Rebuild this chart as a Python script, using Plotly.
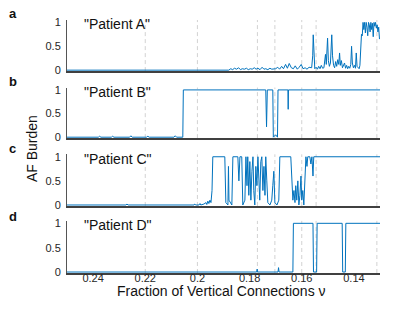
import plotly.graph_objects as go
from plotly.subplots import make_subplots

# ---------------- data ----------------
nu_a = [0.2500, 0.1880, 0.1872, 0.1865, 0.1858, 0.1850, 0.1842, 0.1835, 0.1828, 0.1820,
        0.1812, 0.1805, 0.1797, 0.1790, 0.1782, 0.1775, 0.1768, 0.1760, 0.1752, 0.1745,
        0.1738, 0.1730, 0.1722, 0.1715, 0.1700, 0.1692, 0.1685, 0.1677, 0.1670, 0.1662,
        0.1655, 0.1648, 0.1640, 0.1632, 0.1625, 0.1617, 0.1610, 0.1602, 0.1595, 0.1587,
        0.1580, 0.1572, 0.1562, 0.1558, 0.1556, 0.1553, 0.1550, 0.1545, 0.1540, 0.1535,
        0.1530, 0.1525, 0.1520, 0.1515, 0.1512, 0.1509, 0.1506, 0.1503, 0.1501, 0.1498,
        0.1494, 0.1490, 0.1487, 0.1485, 0.1482, 0.1478, 0.1474, 0.1470, 0.1466, 0.1462,
        0.1458, 0.1455, 0.1452, 0.1448, 0.1444, 0.1440, 0.1436, 0.1432, 0.1428, 0.1424,
        0.1420, 0.1416, 0.1412, 0.1409, 0.1406, 0.1402, 0.1398, 0.1394, 0.1391, 0.1388,
        0.1384, 0.1380, 0.1377, 0.1374, 0.1371, 0.1368, 0.1365, 0.1362, 0.1359, 0.1356,
        0.1353, 0.1350, 0.1347, 0.1344, 0.1341, 0.1338, 0.1335, 0.1332, 0.1329, 0.1326,
        0.1323, 0.1320, 0.1317, 0.1314, 0.1311, 0.1308, 0.1305, 0.1302]
af_a = [0, 0, 0.03, 0.01, 0.04, 0.02, 0.05, 0.01, 0.03, 0.02,
        0.04, 0.01, 0.03, 0.02, 0.05, 0.02, 0.04, 0.01, 0.06, 0.02,
        0.03, 0.01, 0.04, 0.02, 0.03, 0.06, 0.02, 0.08, 0.03, 0.12,
        0.04, 0.14, 0.05, 0.03, 0.09, 0.02, 0.06, 0.12, 0.03, 0.05,
        0.02, 0.06, 0.05, 0.30, 0.74, 0.20, 0.03, 0.06, 0.02, 0.08,
        0.03, 0.10, 0.04, 0.05, 0.15, 0.33, 0.12, 0.45, 0.67, 0.20,
        0.08, 0.15, 0.40, 0.74, 0.30, 0.10, 0.05, 0.18, 0.08, 0.22,
        0.12, 0.36, 0.10, 0.20, 0.05, 0.12, 0.15, 0.04, 0.10, 0.03,
        0.08, 0.04, 0.12, 0.50, 0.15, 0.05, 0.10, 0.04, 0.36, 0.08,
        0.05, 0.03, 0.10, 0.70, 0.75, 0.72, 1.00, 0.85, 1.00, 0.78,
        1.00, 0.90, 0.72, 1.00, 0.95, 0.80, 1.00, 0.85, 0.98, 0.70,
        1.00, 0.92, 1.00, 0.88, 0.95, 0.80, 0.90, 0.65]

nu_b = [0.2500, 0.2380, 0.2375, 0.2370, 0.2330, 0.2325, 0.2320, 0.2260, 0.2255, 0.2250,
        0.2195, 0.2190, 0.2185, 0.2090, 0.2085, 0.2080, 0.2056, 0.2054, 0.1738, 0.1735,
        0.1732, 0.1711, 0.1709, 0.1700, 0.1693, 0.1691, 0.1653, 0.1652, 0.1651, 0.1300]
af_b = [0, 0, 0.02, 0, 0, 0.02, 0, 0, 0.03, 0,
        0, 0.02, 0, 0, 0.03, 0, 0, 1, 1, 0.22,
        1, 1, 0, 0.05, 0, 1, 1, 0.59, 1, 1]

nu_c = [0.2500, 0.2274, 0.2270, 0.2266, 0.2013, 0.2010, 0.2006, 0.1994, 0.1990, 0.1987,
        0.1975, 0.1967, 0.1964, 0.1960, 0.1956, 0.1952, 0.1948, 0.1944, 0.1941, 0.1895,
        0.1891, 0.1883, 0.1881, 0.1879, 0.1868, 0.1864, 0.1845, 0.1841, 0.1837, 0.1830,
        0.1826, 0.1818, 0.1814, 0.1810, 0.1807, 0.1803, 0.1799, 0.1795, 0.1791, 0.1787,
        0.1784, 0.1780, 0.1776, 0.1772, 0.1768, 0.1764, 0.1761, 0.1757, 0.1753, 0.1749,
        0.1745, 0.1741, 0.1738, 0.1734, 0.1730, 0.1722, 0.1715, 0.1711, 0.1707, 0.1703,
        0.1695, 0.1688, 0.1684, 0.1642, 0.1638, 0.1634, 0.1630, 0.1626, 0.1623, 0.1619,
        0.1615, 0.1611, 0.1607, 0.1603, 0.1600, 0.1596, 0.1592, 0.1588, 0.1584, 0.1580,
        0.1577, 0.1569, 0.1565, 0.1561, 0.1557, 0.1554, 0.1300]
af_c = [0, 0, 0.02, 0, 0, 0.02, 0, 0, 0.03, 0,
        0.02, 0.05, 0.01, 0.08, 0.03, 0.10, 0.05, 0.30, 1, 1,
        0.05, 0, 0.80, 0.10, 0, 1, 1, 0.50, 1, 1,
        0, 0.10, 1, 0.40, 1, 0.20, 0.90, 0.10, 0.70, 1,
        0.30, 0, 0.80, 0.40, 1, 0.60, 0.10, 0.90, 1, 0.30,
        0.80, 0.20, 1, 0.50, 0.05, 0, 0.10, 0.40, 0.70, 0.05,
        0, 0.10, 1, 1, 0.60, 0.10, 0.30, 0.05, 0.40, 0.10,
        0.50, 0, 0.20, 0.60, 0.10, 0.30, 0, 0.70, 1, 0.80,
        1, 1, 0.85, 1, 0.60, 1, 1]

nu_d = [0.2500, 0.1773, 0.1771, 0.1769, 0.1691, 0.1689, 0.1687, 0.1634, 0.1632, 0.1557,
        0.1555, 0.1543, 0.1541, 0.1445, 0.1443, 0.1433, 0.1431, 0.1300]
af_d = [0, 0, 0.06, 0, 0, 0.09, 0, 0, 1, 1,
        0, 0, 1, 1, 0, 0, 1, 1]

series_nu = [nu_a, nu_b, nu_c, nu_d]
series_af = [af_a, af_b, af_c, af_d]
patient_names = ['"Patient A"', '"Patient B"', '"Patient C"', '"Patient D"']
panel_letters = ["a", "b", "c", "d"]
marker_nu = [0.22, 0.20, 0.177, 0.1703, 0.16, 0.1545, 0.1312]
x_tick_vals = [0.24, 0.22, 0.20, 0.18, 0.16, 0.14]
x_tick_text = ["0.24", "0.22", "0.2", "0.18", "0.16", "0.14"]
y_tick_vals = [0, 0.5, 1]
y_tick_text = ["0", "0.5", "1"]

# ---------------- figure ----------------
FONT = "Liberation Sans, Arial, sans-serif"
BLUE = "#0072BD"
TXT = "#262626"

fig = make_subplots(rows=4, cols=1, shared_xaxes=True)

domains = [[0.798, 1.0], [0.533, 0.733], [0.265, 0.469], [0.0, 0.206]]

for i in range(4):
    r = i + 1
    fig.add_trace(go.Scatter(x=series_nu[i], y=series_af[i], mode="lines",
                             line=dict(color=BLUE, width=1), hoverinfo="skip",
                             showlegend=False), row=r, col=1)
    fig.update_yaxes(row=r, col=1, domain=domains[i], range=[-0.02, 1.05],
                     tickvals=y_tick_vals, ticktext=y_tick_text,
                     showline=True, linecolor="#555555", linewidth=1,
                     showgrid=False, zeroline=False, ticks="outside", ticklen=3,
                     tickcolor="rgba(0,0,0,0)",
                     tickfont=dict(family=FONT, size=11, color=TXT))
    fig.update_xaxes(row=r, col=1, range=[0.25, 0.13], showline=True,
                     linecolor="#404040", linewidth=1.5, showgrid=False,
                     zeroline=False, tickvals=x_tick_vals, ticktext=x_tick_text,
                     showticklabels=(r == 4), ticks="", ticklabelstandoff=-6,
                     tickfont=dict(family=FONT, size=11, color=TXT))
    xref = "x" if r == 1 else f"x{r}"
    yref = "y" if r == 1 else f"y{r}"
    for m in marker_nu:
        fig.add_shape(type="line", x0=m, x1=m, y0=0, y1=1, xref=xref,
                      yref=f"{yref} domain", layer="below",
                      line=dict(color="#d2d2d2", width=1, dash="4px,3px"))
    fig.add_annotation(text=patient_names[i], x=0.048, xref="paper", xanchor="left",
                       y=0.96, yref=yref, yanchor="middle", showarrow=False,
                       font=dict(family=FONT, size=14, color="#111111"))

letter_y = [1.026, 0.757, 0.492, 0.224]
for i in range(4):
    fig.add_annotation(text=f"<b>{panel_letters[i]}</b>", x=-0.174, xref="paper",
                       xanchor="center", y=letter_y[i], yref="paper", yanchor="middle",
                       showarrow=False, borderpad=0,
                       font=dict(family=FONT, size=13, color="#111111"))

fig.add_annotation(text="AF Burden", textangle=-90, x=(32 - 67) / 313, xref="paper",
                   xanchor="center", y=0.49, yref="paper", yanchor="middle",
                   showarrow=False, font=dict(family=FONT, size=14, color="#111111"))
fig.add_annotation(text="Fraction of Vertical Connections ν", x=0.495, xref="paper",
                   xanchor="center", y=-0.07, yref="paper", yanchor="middle",
                   showarrow=False, borderpad=0,
                   font=dict(family=FONT, size=14, color="#111111"))

# the page body adds an 8px offset, so margins are shifted to compensate
fig.update_layout(width=399, height=314, margin=dict(l=59, r=27, t=8, b=49),
                  plot_bgcolor="white", paper_bgcolor="white", showlegend=False)

fig.write_html("out.html")
